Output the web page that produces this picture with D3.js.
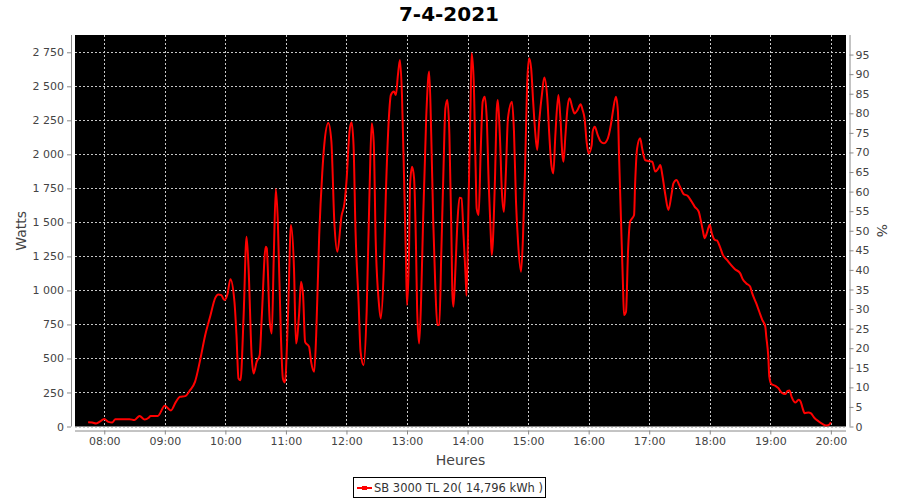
<!DOCTYPE html>
<html>
<head>
<meta charset="utf-8">
<script src="https://cdn.jsdelivr.net/npm/d3@7"></script>
<style>
  body { margin: 0; background: #fff; }
  svg { display: block; font-family: "DejaVu Sans", sans-serif; }
</style>
</head>
<body>
<svg id="chart" width="900" height="500"></svg>
<script>
// readings (HH:MM, watts)
const times = [
  "07:44","07:48","07:52","07:56","08:00","08:04","08:08","08:11","08:15","08:20",
  "08:25","08:30","08:35","08:40","08:44","08:46","08:53","09:00","09:06","09:11",
  "09:15","09:20","09:25","09:30","09:35","09:40","09:45","09:50","09:53","09:56",
  "09:59","10:02","10:05","10:09","10:11","10:13","10:15","10:18","10:21","10:23",
  "10:26","10:28","10:31","10:34","10:36","10:40","10:41","10:44","10:46","10:48",
  "10:50","10:52","10:55","10:57","10:59","11:02","11:05","11:08","11:10","11:13",
  "11:15","11:17","11:19","11:23","11:25","11:28","11:30","11:33","11:36","11:38",
  "11:42","11:45","11:48","11:51","11:55","11:58","12:00","12:03","12:05","12:07",
  "12:09","12:12","12:14","12:17","12:20","12:23","12:25","12:27","12:29","12:32",
  "12:34","12:37","12:39","12:42","12:44","12:47","12:49","12:51","12:53","12:55",
  "12:57","12:59","13:00","13:02","13:03","13:05","13:07","13:09","13:10","13:12",
  "13:14","13:16","13:19","13:21","13:22","13:24","13:26","13:28","13:30","13:32",
  "13:34","13:36","13:38","13:40","13:42","13:44","13:45","13:46","13:48","13:50",
  "13:52","13:54","13:56","13:58","13:59","14:01","14:03","14:04","14:06","14:08",
  "14:09","14:11","14:13","14:15","14:17","14:19","14:21","14:23","14:24","14:27",
  "14:29","14:30","14:32","14:34","14:36","14:38","14:40","14:44","14:46","14:48",
  "14:50","14:53","14:55","14:57","14:59","15:01","15:03","15:05","15:07","15:09",
  "15:11","15:14","15:16","15:19","15:21","15:23","15:25","15:27","15:30","15:32",
  "15:34","15:35","15:37","15:39","15:41","15:44","15:46","15:49","15:52","15:54",
  "15:56","15:58","16:00","16:03","16:04","16:06","16:09","16:12","16:15","16:19",
  "16:22","16:24","16:27","16:29","16:30","16:32","16:34","16:35","16:37","16:39",
  "16:41","16:43","16:45","16:46","16:48","16:51","16:53","16:56","16:59","17:03",
  "17:06","17:09","17:11","17:13","17:16","17:19","17:22","17:24","17:27","17:30",
  "17:34","17:38","17:42","17:45","17:49","17:51","17:53","17:55","17:57","18:00",
  "18:02","18:05","18:07","18:10","18:13","18:17","18:21","18:25","18:30","18:33",
  "18:36","18:40","18:42","18:46","18:49","18:52","18:55","18:56","18:58","18:59",
  "19:01","19:05","19:08","19:11","19:15","19:17","19:19","19:21","19:25","19:28",
  "19:30","19:32","19:34","19:38","19:40","19:44","19:48","19:52","19:55","19:58",
  "20:00"
];
const watts = [
  32,30,22,37,56,34,30,54,54,54,
  54,47,78,51,64,78,78,152,118,181,
  218,223,267,330,488,671,810,945,970,965,
  929,970,1083,917,672,353,340,794,1395,1162,
  524,390,475,524,794,1321,1309,770,684,1259,
  1745,1505,672,353,324,794,1480,1162,610,819,
  1064,966,622,586,475,402,672,1407,1862,2070,
  2230,2100,1500,1284,1542,1640,1799,2167,2235,2069,
  1431,917,549,451,843,1775,2228,2093,1358,917,
  794,1162,1701,2265,2436,2461,2436,2583,2694,2436,
  1848,1211,892,1284,1775,1909,1824,1284,868,610,
  941,1529,2265,2559,2608,2142,1505,1039,745,745,
  1284,1848,2338,2400,2142,1407,966,880,1162,1505,
  1681,1676,1407,1113,960,1652,2387,2743,2559,1897,
  1603,1554,2020,2387,2424,2265,1775,1407,1260,1775,
  2338,2400,2142,1725,1578,1873,2265,2387,2167,1652,
  1358,1137,1407,1897,2510,2706,2632,2387,2167,2032,
  2240,2461,2564,2412,2142,1922,1860,2142,2436,2265,
  1995,1946,2142,2338,2412,2338,2301,2326,2368,2326,
  2260,2090,2007,2069,2167,2203,2142,2093,2081,2118,
  2216,2314,2424,2314,2020,1529,1039,819,843,1284,
  1505,1529,1554,1775,2044,2118,2044,1958,1951,1946,
  1873,1897,1922,1848,1701,1591,1701,1787,1812,1770,
  1709,1695,1653,1616,1580,1518,1445,1384,1420,1482,
  1420,1371,1367,1322,1261,1225,1188,1156,1127,1078,
  1053,1029,980,906,845,784,735,661,514,367,
  313,299,282,250,238,262,265,220,176,196,
  184,135,98,103,98,61,37,17,7,12,
  32
];
const hourTicks = ["08:00","09:00","10:00","11:00","12:00","13:00","14:00",
  "15:00","16:00","17:00","18:00","19:00","20:00"];
const wattTicks = [0,250,500,750,1000,1250,1500,1750,2000,2250,2500,2750];
const pctTicks = d3.range(0, 100, 5);

const title = "7-4-2021";
const seriesName = "SB 3000 TL 20( 14,796 kWh )";

const svg = d3.select("#chart");
const parse = d3.timeParse("%H:%M");
const data = times.map((t, i) => ({ t: parse(t), w: watts[i] }));

const plot = { left: 75, right: 846, top: 35, bottom: 426.5 };

const x = d3.scaleTime()
  .domain([parse("07:31"), parse("20:15")])
  .range([plot.left, plot.right]);
const y = d3.scaleLinear().domain([0, 2877]).range([plot.bottom, plot.top]);
const yPct = d3.scaleLinear().domain([0, 100]).range([plot.bottom, plot.top]);

// plot background
svg.append("rect")
  .attr("x", plot.left).attr("y", plot.top)
  .attr("width", plot.right - plot.left)
  .attr("height", plot.bottom - plot.top)
  .attr("fill", "#000");

// grid
const grid = svg.append("g").attr("stroke", "#c8c8c8").attr("stroke-width", 1)
  .attr("stroke-dasharray", "2,2");
grid.selectAll("line.h").data(wattTicks).join("line")
  .attr("x1", plot.left).attr("x2", plot.right)
  .attr("y1", d => Math.round(y(d)) + 0.5).attr("y2", d => Math.round(y(d)) + 0.5);
grid.selectAll("line.v").data(hourTicks).join("line")
  .attr("x1", d => Math.round(x(parse(d))) + 0.5).attr("x2", d => Math.round(x(parse(d))) + 0.5)
  .attr("y1", plot.top).attr("y2", plot.bottom);

// axes
const fmtW = d => d3.format(",")(d).replace(",", " ");
const axisColor = "#888";

const gLeft = svg.append("g").attr("transform", "translate(71,0)")
  .call(d3.axisLeft(y).tickValues(wattTicks).tickFormat(fmtW).tickSizeInner(4).tickSizeOuter(0));
const gBottom = svg.append("g").attr("transform", "translate(0,430.5)")
  .call(d3.axisBottom(x).tickValues(hourTicks.map(parse)).tickFormat(d3.timeFormat("%H:%M"))
    .tickSizeInner(4).tickSizeOuter(0));
const gRight = svg.append("g").attr("transform", "translate(849.5,0)")
  .call(d3.axisRight(yPct).tickValues(pctTicks).tickSizeInner(4).tickSizeOuter(0));

[gLeft, gBottom, gRight].forEach(g => {
  g.select(".domain").attr("stroke", axisColor);
  g.selectAll(".tick line").attr("stroke", axisColor);
  g.selectAll(".tick text").attr("fill", "#444")
    .style("font-family", "DejaVu Sans").style("font-size", "11px");
});
gLeft.select(".domain").attr("d", `M0.5,${plot.top}V${plot.bottom}`);
gBottom.select(".domain").attr("d", `M${plot.left},0.5H${plot.right}`);
gRight.select(".domain").attr("d", `M0.5,${plot.top}V${plot.bottom}`);
gLeft.selectAll(".tick text").attr("x", -7);
gRight.selectAll(".tick text").attr("x", 6);
gBottom.selectAll(".tick text").attr("y", 7);

// series line
const line = d3.line()
  .x(d => x(d.t))
  .y(d => y(d.w))
  .curve(d3.curveMonotoneX);

svg.append("path")
  .datum(data)
  .attr("fill", "none")
  .attr("stroke", "#ff0000")
  .attr("stroke-width", 2)
  .attr("stroke-linejoin", "round")
  .attr("d", line);

// title and labels
svg.append("text")
  .attr("x", 449).attr("y", 21)
  .attr("text-anchor", "middle")
  .style("font-size", "20px").style("font-weight", "bold")
  .attr("fill", "#000")
  .text(title);

svg.append("text")
  .attr("transform", `translate(26,${(plot.top + plot.bottom) / 2}) rotate(-90)`)
  .attr("text-anchor", "middle")
  .style("font-size", "14px").attr("fill", "#444")
  .text("Watts");

svg.append("text")
  .attr("transform", `translate(877,${(plot.top + plot.bottom) / 2}) rotate(90)`)
  .attr("text-anchor", "middle")
  .style("font-size", "14px").attr("fill", "#444")
  .text("%");

svg.append("text")
  .attr("x", (plot.left + plot.right) / 2).attr("y", 465)
  .attr("text-anchor", "middle")
  .style("font-size", "14px").attr("fill", "#444")
  .text("Heures");

// legend
const legend = svg.append("g");
legend.append("rect")
  .attr("x", 353.5).attr("y", 477.5).attr("width", 192).attr("height", 20)
  .attr("fill", "#fff").attr("stroke", "#000");
legend.append("line")
  .attr("x1", 357).attr("x2", 372).attr("y1", 488).attr("y2", 488)
  .attr("stroke", "#ff0000").attr("stroke-width", 2);
legend.append("rect")
  .attr("x", 362).attr("y", 486).attr("width", 5).attr("height", 4).attr("fill", "#ff0000");
legend.append("text")
  .attr("x", 374).attr("y", 492)
  .style("font-size", "11.5px").attr("fill", "#333")
  .text(seriesName);
</script>
</body>
</html>
